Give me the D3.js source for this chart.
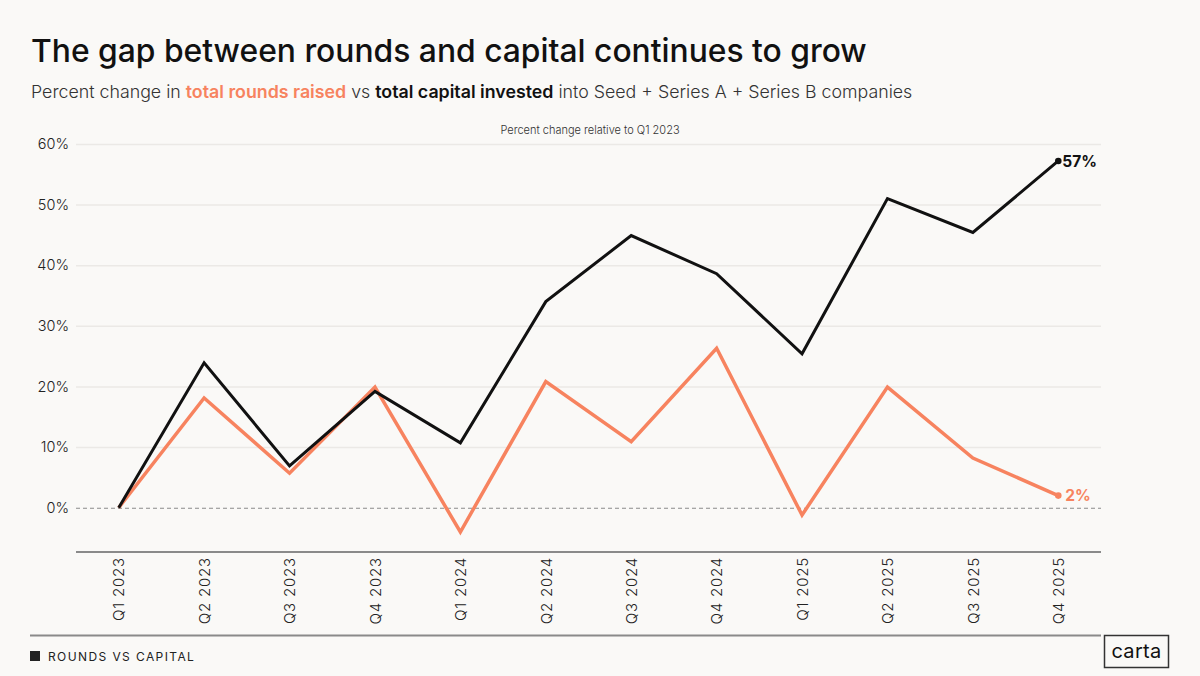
<!DOCTYPE html>
<html>
<head>
<meta charset="utf-8">
<script src="https://cdn.jsdelivr.net/npm/d3@7"></script>
<style>
  html,body{margin:0;padding:0;background:#faf9f7;}
  svg{display:block;font-family:"Inter","Lato",sans-serif;}
</style>
</head>
<body>
<svg id="chart"></svg>
<script>
// ---------- DATA --------------------------------------------------------
const quarters = ['Q1 2023','Q2 2023','Q3 2023','Q4 2023','Q1 2024','Q2 2024',
                  'Q3 2024','Q4 2024','Q1 2025','Q2 2025','Q3 2025','Q4 2025'];
const capital  = [0, 23.9, 6.9, 19.2, 10.7, 34.0, 44.9, 38.6, 25.4, 51.0, 45.4, 57.2];
const rounds   = [0, 18.1, 5.7, 19.9, -4.0, 20.8, 10.9, 26.3, -1.2, 19.9, 8.2, 2.0];
const yTicks   = [0, 10, 20, 30, 40, 50, 60];

// ---------- CONSTANTS ---------------------------------------------------
const W = 1200, H = 676;
const PL = 76, PR = 1101, PT = 144, PB = 552;
const COLORS = {cap:'#111', rnd:'#f7835f', grid:'#ebe9e6', axis:'#8a8a8a', text:'#222'};
const FONT = '"Inter","Lato",sans-serif';

const svg = d3.select('#chart').attr('width', W).attr('height', H);
svg.append('rect').attr('width', W).attr('height', H).attr('fill', '#faf9f7');

// ---------- SCALES ------------------------------------------------------
const x = d3.scalePoint().domain(quarters).range([PL, PR]).padding(0.5);
const y = d3.scaleLinear().domain([-7.3, 60]).range([PB, PT]);

// ---------- TITLES ------------------------------------------------------
svg.append('text').attr('x', 31).attr('y', 62)
   .attr('font-size', 31.8).attr('font-weight', 500).attr('fill', '#111')
   .text('The gap between rounds and capital continues to grow');

const sub = svg.append('text').attr('x', 31).attr('y', 98)
   .attr('font-size', 17.8).attr('fill', '#333').attr('font-weight', 300);
sub.append('tspan').text('Percent change in ');
sub.append('tspan').attr('fill', COLORS.rnd).attr('font-weight', 600).text('total rounds raised');
sub.append('tspan').text(' vs ');
sub.append('tspan').attr('fill', '#111').attr('font-weight', 600).text('total capital invested');
sub.append('tspan').text(' into Seed + Series A + Series B companies');

svg.append('text').attr('x', 590).attr('y', 134).attr('text-anchor', 'middle')
   .attr('font-size', 11).attr('fill', '#333').attr('font-weight', 300)
   .text('Percent change relative to Q1 2023');

// ---------- GRID + Y AXIS -----------------------------------------------
const yAxis = svg.append('g').attr('transform', `translate(${PL},0)`)
  .call(d3.axisLeft(y).tickValues(yTicks).tickSize(-(PR - PL)).tickPadding(7)
        .tickFormat(d => d + '%'));
yAxis.select('.domain').remove();
yAxis.selectAll('.tick line')
  .attr('stroke', d => d === 0 ? COLORS.axis : COLORS.grid)
  .attr('stroke-width', d => d === 0 ? 1.2 : 1.5)
  .attr('stroke-dasharray', d => d === 0 ? '4,3' : null);
yAxis.selectAll('.tick text').attr('font-size', 14.5).attr('fill', COLORS.text)
  .attr('font-family', FONT).attr('font-weight', 300);

// ---------- X AXIS ------------------------------------------------------
const xAxis = svg.append('g').attr('transform', `translate(0,${PB})`)
  .call(d3.axisBottom(x).tickSize(0).tickPadding(0));
xAxis.select('.domain').attr('stroke', COLORS.axis).attr('stroke-width', 2)
  .attr('d', `M${PL},0H${PR}`);
xAxis.selectAll('.tick text')
  .attr('font-size', 15).attr('fill', COLORS.text).attr('font-weight', 300)
  .attr('font-family', FONT).attr('letter-spacing', 0.8)
  .attr('text-anchor', 'end').attr('dy', '0.35em')
  .attr('transform', 'translate(0,5) rotate(-90)');

// ---------- LINES -------------------------------------------------------
const line = d3.line().x((d, i) => x(quarters[i])).y(d => y(d));

svg.append('path').datum(rounds).attr('fill', 'none')
   .attr('stroke', COLORS.rnd).attr('stroke-width', 3.5).attr('stroke-linejoin', 'miter')
   .attr('d', line);
svg.append('path').datum(capital).attr('fill', 'none')
   .attr('stroke', COLORS.cap).attr('stroke-width', 3).attr('stroke-linejoin', 'miter')
   .attr('d', line);

// end points + labels
const last = quarters.length - 1;
[[capital, COLORS.cap, 4], [rounds, COLORS.rnd, 7]].forEach(([s, c, dx]) => {
  svg.append('circle').attr('cx', x(quarters[last])).attr('cy', y(s[last]))
     .attr('r', 3.3).attr('fill', c);
  svg.append('text').attr('x', x(quarters[last]) + dx).attr('y', y(s[last]))
     .attr('dy', '0.36em').attr('font-size', 15.5).attr('font-weight', 700)
     .attr('fill', c).text(Math.round(s[last]) + '%');
});

// ---------- FOOTER ------------------------------------------------------
svg.append('line').attr('x1', 30).attr('x2', PR).attr('y1', 635.5).attr('y2', 635.5)
   .attr('stroke', COLORS.axis).attr('stroke-width', 2);
svg.append('rect').attr('x', 30).attr('y', 651).attr('width', 10).attr('height', 10)
   .attr('fill', '#222');
svg.append('text').attr('x', 48).attr('y', 660.5).attr('font-size', 12)
   .attr('letter-spacing', 1.4).attr('fill', '#222')
   .text('ROUNDS VS CAPITAL');

svg.append('rect').attr('x', 1104.5).attr('y', 635.5).attr('width', 64).attr('height', 32)
   .attr('fill', 'none').attr('stroke', '#333').attr('stroke-width', 1.5);
svg.append('text').attr('x', 1136.5).attr('y', 658).attr('text-anchor', 'middle')
   .attr('font-size', 20).attr('fill', '#111').attr('letter-spacing', 0.3)
   .text('carta');
</script>
</body>
</html>
